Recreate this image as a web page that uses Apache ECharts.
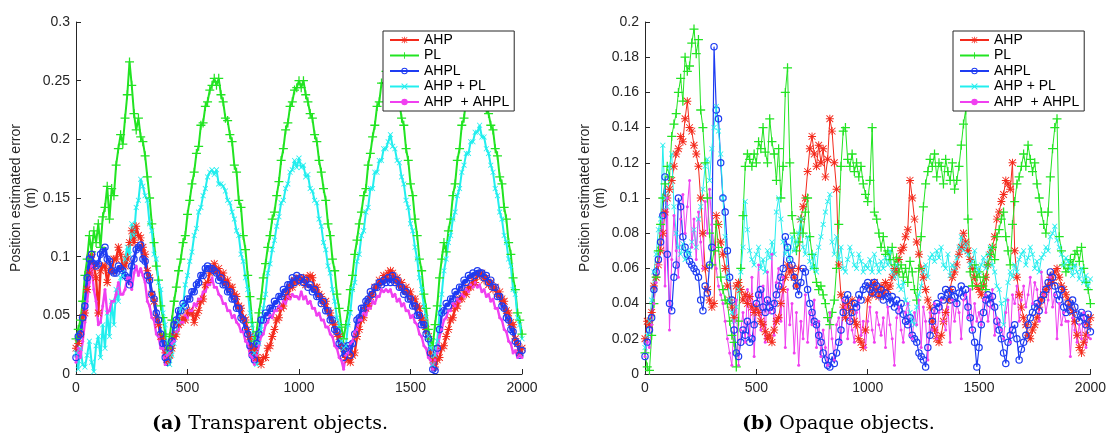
<!DOCTYPE html>
<html>
<head>
<meta charset="utf-8">
<script src="https://cdn.jsdelivr.net/npm/echarts@6/dist/echarts.min.js"></script>
<style>
  html, body { margin: 0; padding: 0; background: #fff; }
  #chart { width: 1109px; height: 437px; }
</style>
</head>
<body>
<div id="chart"></div>
<script>
// one sample every 10 steps, values in millimetres (plotted in metres)
const sampleStep = 10;
const seriesNames = ['AHP', 'PL', 'AHPL', 'AHP + PL', 'AHP  + AHPL'];

// (a) transparent objects
const aPL = [
  30,38,46,62,84,98,118,104,122,112,
  128,108,134,142,160,132,158,152,178,192,
  204,196,218,238,266,246,222,208,218,202,
  198,186,168,150,128,112,92,80,58,48,
  34,22,32,46,62,74,88,98,112,118,
  136,148,162,172,188,194,212,214,228,232,
  242,246,252,246,252,238,232,218,216,204,
  198,178,172,148,142,118,106,84,66,44,
  28,36,52,64,82,94,108,118,132,138,
  152,164,182,192,208,214,228,232,242,244,
  250,244,250,238,232,222,218,204,198,182,
  172,158,148,128,118,98,88,68,56,40,
  30,42,54,72,84,102,114,128,138,152,
  158,178,188,202,212,228,232,248,248,258,
  256,262,252,252,238,232,218,212,192,182,
  162,152,132,118,98,88,68,56,38,30,
  24,42,58,82,98,112,104,122,132,152,
  162,182,192,212,218,236,238,248,248,254,
  248,246,238,236,226,222,212,208,192,186,
  168,162,142,132,112,102,82,72,52,46,
  34
];
const aAHPPL = [
  18,4,22,8,6,16,28,10,2,24,
  32,14,42,22,52,32,62,42,72,62,
  82,84,98,108,102,128,118,142,148,166,
  160,152,148,128,122,102,98,78,72,52,
  42,18,8,16,26,36,44,56,58,76,
  84,96,104,118,124,138,142,152,158,168,
  172,174,170,174,162,162,160,156,148,146,
  138,132,122,118,102,96,82,72,52,42,
  18,8,26,38,56,68,86,94,106,114,
  126,134,146,148,158,162,172,174,182,176,
  184,176,178,168,170,158,156,148,146,132,
  126,112,106,92,86,72,62,48,42,28,
  22,24,42,52,72,78,96,102,118,122,
  138,142,158,158,172,172,182,182,192,192,
  198,204,194,192,182,180,168,162,148,142,
  128,122,108,98,82,72,58,48,32,22,
  8,16,28,52,68,88,98,112,118,132,
  138,152,158,172,178,188,188,198,198,206,
  206,212,202,202,192,188,178,172,158,152,
  138,132,118,112,98,92,72,68,48,42,
  30
];
const aAHP = [
  22,26,34,48,52,72,86,102,92,82,
  52,88,92,92,78,88,88,98,98,108,
  102,92,92,98,112,122,112,126,118,116,
  108,102,88,82,68,62,48,42,32,32,
  18,10,16,22,32,34,42,44,48,46,
  52,54,52,44,50,54,62,64,76,78,
  86,88,94,88,90,84,86,78,80,74,
  74,68,66,58,56,48,46,38,32,22,
  20,14,12,8,14,14,22,24,32,38,
  46,48,56,58,66,68,74,74,80,78,
  82,80,82,76,82,84,82,74,74,68,
  66,60,62,54,52,44,42,34,32,24,
  22,14,12,10,16,18,32,38,46,48,
  56,58,66,68,74,74,80,78,84,82,
  86,88,86,80,82,76,78,72,74,68,
  70,64,64,58,56,48,46,38,32,18,
  12,6,12,14,22,24,32,38,46,48,
  56,58,64,64,70,68,74,74,80,78,
  84,84,86,80,82,76,78,72,74,68,
  70,64,62,54,52,44,42,30,26,18,
  22
];
const aAHPL = [
  14,32,34,48,58,82,98,102,94,92,
  94,102,104,108,98,96,88,86,86,92,
  90,88,84,82,76,92,98,106,108,110,
  98,96,84,80,68,64,52,46,34,26,
  14,10,22,28,42,46,54,54,60,58,
  64,64,70,70,76,78,84,84,90,92,
  90,90,88,86,80,82,76,76,70,70,
  64,64,56,56,48,46,38,34,24,16,
  12,26,34,46,46,52,50,56,56,62,
  60,66,66,72,70,76,76,82,78,84,
  80,82,78,80,74,76,70,72,66,66,
  60,62,54,54,46,46,38,36,26,24,
  14,22,24,16,26,34,46,48,56,56,
  62,64,70,68,74,74,78,76,80,78,
  82,78,84,78,80,74,74,68,70,64,
  64,58,58,50,50,42,42,34,30,18,
  4,3,22,38,52,54,60,58,64,64,
  70,68,74,74,80,78,84,82,86,84,
  88,86,86,82,84,78,80,74,74,66,
  66,58,56,48,46,38,36,28,26,16,
  20
];
const aAHPAHPL = [
  10,22,14,28,44,62,78,92,72,62,
  42,44,58,72,52,54,62,62,68,78,
  68,68,72,82,82,72,86,92,84,90,
  84,78,62,58,48,46,34,32,22,22,
  8,16,18,26,28,36,38,44,44,50,
  48,54,54,60,58,64,64,70,70,76,
  76,82,74,74,68,66,60,60,54,54,
  48,50,44,42,36,36,28,26,16,14,
  8,16,24,32,34,42,44,50,48,54,
  54,58,56,62,60,66,64,68,66,66,
  64,70,64,66,60,62,56,56,50,52,
  46,46,40,40,34,32,24,22,14,12,
  4,16,18,26,28,36,38,46,46,52,
  50,56,56,62,60,66,66,72,70,72,
  70,72,66,68,62,64,58,60,54,54,
  48,50,44,42,34,32,24,22,14,12,
  4,12,18,32,38,46,48,54,54,60,
  58,64,62,68,66,72,70,76,74,78,
  74,76,70,72,66,68,62,64,56,56,
  48,46,38,36,28,26,18,20,14,16,
  14
];

// (b) opaque objects
const bPL = [
  12,4,2,22,40,55,70,85,100,108,
  118,112,135,142,148,160,168,155,180,172,
  175,188,196,182,190,150,140,120,100,80,
  62,70,85,72,55,48,42,40,30,22,
  18,4,30,60,90,118,125,122,118,125,
  120,132,128,140,126,120,145,132,125,110,
  128,100,118,160,174,120,90,80,70,75,
  88,80,92,100,78,68,60,52,48,50,
  45,40,32,28,35,42,60,85,118,138,
  140,122,118,125,115,120,112,118,108,102,
  98,110,140,92,88,80,72,78,68,70,
  65,72,62,66,58,62,55,60,52,64,
  58,48,42,60,78,95,108,115,122,118,
  125,112,120,118,108,122,115,110,120,105,
  110,118,130,142,150,88,58,50,62,55,
  58,50,55,48,62,68,72,65,78,82,
  88,92,78,70,62,85,98,108,112,118,
  125,118,130,122,115,120,108,100,92,85,
  80,92,112,128,140,145,78,70,62,58,
  60,65,62,68,70,64,72,60,52,48,
  40
];
const bAHPPL = [
  15,22,30,42,58,68,82,88,130,100,
  95,118,125,95,80,72,68,74,65,70,
  68,75,82,72,88,95,105,118,122,110,
  128,140,152,138,125,100,78,55,42,35,
  30,38,48,58,72,98,82,70,65,62,
  68,72,60,65,58,70,66,75,68,92,
  100,88,75,68,72,65,78,70,75,80,
  88,72,68,78,64,60,68,58,72,78,
  85,92,98,102,75,68,78,65,72,60,
  58,65,72,68,62,60,68,64,58,62,
  60,65,58,68,62,58,64,60,66,62,
  70,58,55,62,50,48,52,42,40,35,
  30,28,38,45,50,58,62,55,66,68,
  64,70,66,72,62,60,68,56,62,60,
  66,72,78,70,74,68,62,64,70,60,
  58,62,66,60,68,72,62,58,50,48,
  40,28,42,52,58,55,62,58,65,68,
  70,62,66,72,68,60,64,58,66,68,
  72,70,78,80,84,76,72,68,62,66,
  64,60,56,62,58,54,60,52,56,50,
  54
];
const bAHP = [
  20,30,28,35,50,55,62,70,80,92,
  100,105,110,118,125,128,135,132,145,155,
  140,138,130,125,118,100,80,60,48,42,
  38,40,90,85,75,68,60,50,42,38,
  32,50,52,48,42,45,40,44,38,35,
  38,35,30,28,24,20,22,18,25,30,
  32,40,48,55,62,58,60,55,50,60,
  88,95,100,115,128,135,125,118,130,120,
  128,112,122,145,138,120,105,62,45,38,
  32,40,36,42,30,28,20,18,15,25,
  42,50,45,52,48,44,50,46,52,48,
  50,55,60,58,65,70,72,78,82,110,
  100,88,75,68,60,55,48,42,38,30,
  25,20,18,22,30,35,42,48,55,58,
  62,68,72,80,75,70,65,60,55,50,
  48,45,50,55,62,68,72,78,88,92,
  98,102,110,108,105,120,70,55,45,38,
  32,28,22,20,25,28,32,38,42,45,
  48,50,55,52,58,60,55,50,48,45,
  42,38,35,30,22,15,12,18,22,28,
  32
];
const bAHPL = [
  10,18,25,32,48,58,65,75,90,112,
  68,40,36,55,62,100,95,78,72,68,
  64,62,60,58,55,42,36,50,46,62,
  72,186,150,145,120,100,92,70,55,42,
  25,12,10,18,25,22,30,18,20,28,
  40,45,48,38,35,42,38,36,40,45,
  50,55,60,78,72,65,62,55,50,45,
  52,60,58,48,40,35,30,28,22,18,
  12,8,5,4,10,6,12,18,25,35,
  42,45,30,35,40,38,45,42,48,50,
  52,48,46,52,50,45,48,42,46,44,
  40,44,38,42,36,40,34,30,28,32,
  22,20,18,12,10,8,4,15,22,30,
  36,40,38,44,42,48,46,42,48,44,
  40,46,50,44,48,38,32,25,18,4,
  15,28,35,42,45,40,44,38,30,25,
  20,12,6,18,22,25,28,20,8,14,
  18,22,28,32,35,38,40,36,42,45,
  48,52,58,55,50,45,42,48,38,35,
  40,36,42,38,34,30,35,32,28,34,
  24
];
const bAHPAHPL = [
  10,18,15,28,40,52,62,80,90,50,
  100,25,65,90,70,55,88,102,80,95,
  110,72,88,65,92,75,60,98,80,105,
  85,72,60,50,45,40,30,20,12,5,
  30,42,5,25,35,18,48,22,55,10,
  40,62,25,50,18,58,35,68,22,52,
  60,30,55,15,48,28,40,12,35,5,
  30,20,45,18,35,28,42,15,30,10,
  25,15,5,35,20,8,28,32,18,42,
  38,20,32,25,18,35,42,22,30,15,
  30,38,25,18,35,28,22,32,15,38,
  28,20,5,32,38,25,18,35,40,22,
  20,35,28,42,15,38,30,8,35,25,
  40,20,35,42,30,25,38,18,42,30,
  40,35,20,42,45,32,48,25,40,30,
  35,28,42,45,30,38,48,22,32,28,
  25,20,35,42,18,45,40,50,30,42,
  50,38,45,55,40,52,48,30,58,45,
  35,42,55,38,45,20,40,28,35,30,
  30,10,32,25,18,28,20,35,15,22,
  20
];

// matlab-like markers: * + o x .  (the "o" is an open ring so lines below stay visible)
const markers = [
  { color: '#f42a1c', symbol: 'path://M4.4,0h1.2v10h-1.2z M0,4.4h10v1.2h-10z M1.2,0.4L9.6,8.8L8.8,9.6L0.4,1.2z M8.8,0.4L9.6,1.2L1.2,9.6L0.4,8.8z', size: 8 },
  { color: '#22e422', symbol: 'path://M4.3,0h1.4v10h-1.4z M0,4.3h10v1.4h-10z', size: 9 },
  { color: '#1e3cf2', symbol: 'path://M5,0A5,5 0 1,1 5,10A5,5 0 1,1 5,0Z M5,1.6A3.4,3.4 0 1,0 5,8.4A3.4,3.4 0 1,0 5,1.6Z', size: 7.5 },
  { color: '#22eeee', symbol: 'path://M1,0L5,4L9,0L10,1L6,5L10,9L9,10L5,6L1,10L0,9L4,5L0,1z', size: 5.5 },
  { color: '#f040f0', symbol: 'circle', size: 3 }
];

const toPairs = mm => mm.map((v, i) => [i * sampleStep, v / 1000]);

function makeSeries(arrays, gridIndex, widths) {
  return arrays.map((arr, k) => ({
    name: seriesNames[k],
    type: 'line',
    xAxisIndex: gridIndex,
    yAxisIndex: gridIndex,
    data: toPairs(arr),
    symbol: markers[k].symbol,
    symbolSize: markers[k].size,
    lineStyle: { color: markers[k].color, width: widths[k] },
    itemStyle: { color: markers[k].color },
    emphasis: { disabled: true },
    animation: false
  }));
}

const axisColor = '#262626';
const font = '"Liberation Sans", Arial, Helvetica, sans-serif';

function xAxisFor(gridIndex) {
  return {
    type: 'value', gridIndex, min: 0, max: 2000, interval: 500,
    axisLine: { lineStyle: { color: axisColor, width: 1 } },
    axisTick: { inside: true, length: 5, lineStyle: { color: axisColor } },
    axisLabel: { color: axisColor, fontSize: 14, fontFamily: font, margin: 7,
      formatter: v => String(v) },
    splitLine: { show: false }
  };
}

function yAxisFor(gridIndex, max, interval) {
  return {
    type: 'value', gridIndex, min: 0, max, interval,
    name: 'Position estimated error\n(m)',
    nameLocation: 'middle', nameRotate: 90, nameGap: 29,
    nameTextStyle: { color: axisColor, fontSize: 14, fontFamily: font, lineHeight: 15 },
    axisLine: { show: true, lineStyle: { color: axisColor, width: 1 } },
    axisTick: { show: true, inside: true, length: 5, lineStyle: { color: axisColor } },
    axisLabel: { color: axisColor, fontSize: 14, fontFamily: font, margin: 6,
      formatter: v => String(+v.toFixed(2)) },
    splitLine: { show: false }
  };
}

function legendAt(left) {
  return {
    data: seriesNames, orient: 'vertical', left, top: 31,
    padding: [2, 5, 2, 6], itemGap: 1.5, itemWidth: 29, itemHeight: 8,
    backgroundColor: '#fff', borderColor: axisColor, borderWidth: 1,
    borderRadius: 0, selectedMode: false,
    textStyle: { color: '#000', fontSize: 14, fontFamily: font, lineHeight: 14 }
  };
}

const serif = '"DejaVu Serif", serif';
function caption(text, left) {
  return {
    text, left, top: 415, padding: 0,
    textStyle: { fontFamily: serif, fontSize: 19, fontWeight: 'normal', color: '#000',
      rich: { b: { fontFamily: serif, fontSize: 19, fontWeight: 'bold', color: '#000' } } }
  };
}

const chart = echarts.init(document.getElementById('chart'), null, { renderer: 'canvas' });
chart.setOption({
  backgroundColor: '#fff',
  animation: false,
  title: [
    caption('{b|(a)} Transparent objects.', 152),
    caption('{b|(b)} Opaque objects.', 742)
  ],
  legend: [legendAt(383), legendAt(953)],
  grid: [
    { left: 76, right: 587, top: 22, bottom: 63 },
    { left: 645, right: 17, top: 22, bottom: 63 }
  ],
  xAxis: [xAxisFor(0), xAxisFor(1)],
  yAxis: [yAxisFor(0, 0.3, 0.05), yAxisFor(1, 0.2, 0.02)],
  series: [
    ...makeSeries([aAHP, aPL, aAHPL, aAHPPL, aAHPAHPL], 0, [2.4, 2, 3, 2, 2.4]),
    ...makeSeries([bAHP, bPL, bAHPL, bAHPPL, bAHPAHPL], 1, [1, 1, 1.2, 1, 1])
  ]
});
</script>
</body>
</html>
